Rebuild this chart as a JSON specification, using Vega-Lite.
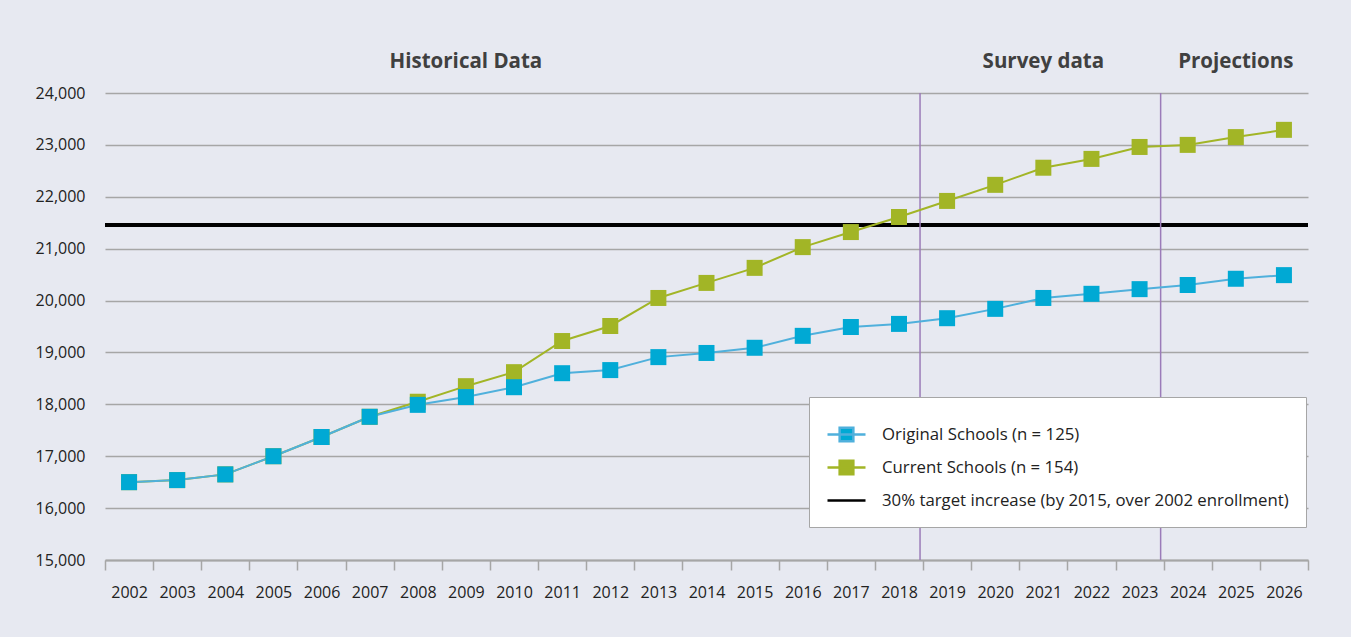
{
  "$schema": "https://vega.github.io/schema/vega-lite/v6.json",
  "autosize": {"type": "none"},
  "width": 1203,
  "height": 467,
  "padding": {"left": 105, "top": 93, "right": 43, "bottom": 77},
  "background": "#e7e9f1",
  "config": {
    "view": {"stroke": null},
    "font": "Open Sans",
    "legend": {
      "fillColor": "#ffffff",
      "strokeColor": "#a6a6a6",
      "padding": 17,
      "labelFont": "Open Sans",
      "labelFontSize": 16.8,
      "labelColor": "#222222",
      "labelLimit": 600,
      "labelOffset": 15,
      "rowPadding": -12,
      "symbolSize": 1444,
      "symbolStrokeWidth": 2.5,
      "symbolOpacity": 1
    }
  },
  "datasets": {
    "series": [
      {"year": 2002, "series": "Current Schools (n = 154)", "value": 16500},
      {"year": 2003, "series": "Current Schools (n = 154)", "value": 16540},
      {"year": 2004, "series": "Current Schools (n = 154)", "value": 16650},
      {"year": 2005, "series": "Current Schools (n = 154)", "value": 17000},
      {"year": 2006, "series": "Current Schools (n = 154)", "value": 17370},
      {"year": 2007, "series": "Current Schools (n = 154)", "value": 17760},
      {"year": 2008, "series": "Current Schools (n = 154)", "value": 18050},
      {"year": 2009, "series": "Current Schools (n = 154)", "value": 18350},
      {"year": 2010, "series": "Current Schools (n = 154)", "value": 18620},
      {"year": 2011, "series": "Current Schools (n = 154)", "value": 19220},
      {"year": 2012, "series": "Current Schools (n = 154)", "value": 19510},
      {"year": 2013, "series": "Current Schools (n = 154)", "value": 20050},
      {"year": 2014, "series": "Current Schools (n = 154)", "value": 20340},
      {"year": 2015, "series": "Current Schools (n = 154)", "value": 20630},
      {"year": 2016, "series": "Current Schools (n = 154)", "value": 21030},
      {"year": 2017, "series": "Current Schools (n = 154)", "value": 21320},
      {"year": 2018, "series": "Current Schools (n = 154)", "value": 21610},
      {"year": 2019, "series": "Current Schools (n = 154)", "value": 21920},
      {"year": 2020, "series": "Current Schools (n = 154)", "value": 22230},
      {"year": 2021, "series": "Current Schools (n = 154)", "value": 22560},
      {"year": 2022, "series": "Current Schools (n = 154)", "value": 22730},
      {"year": 2023, "series": "Current Schools (n = 154)", "value": 22960},
      {"year": 2024, "series": "Current Schools (n = 154)", "value": 23000},
      {"year": 2025, "series": "Current Schools (n = 154)", "value": 23150},
      {"year": 2026, "series": "Current Schools (n = 154)", "value": 23290},
      {"year": 2002, "series": "Original Schools (n = 125)", "value": 16500},
      {"year": 2003, "series": "Original Schools (n = 125)", "value": 16540},
      {"year": 2004, "series": "Original Schools (n = 125)", "value": 16650},
      {"year": 2005, "series": "Original Schools (n = 125)", "value": 17000},
      {"year": 2006, "series": "Original Schools (n = 125)", "value": 17370},
      {"year": 2007, "series": "Original Schools (n = 125)", "value": 17760},
      {"year": 2008, "series": "Original Schools (n = 125)", "value": 17990},
      {"year": 2009, "series": "Original Schools (n = 125)", "value": 18140},
      {"year": 2010, "series": "Original Schools (n = 125)", "value": 18330},
      {"year": 2011, "series": "Original Schools (n = 125)", "value": 18600},
      {"year": 2012, "series": "Original Schools (n = 125)", "value": 18660},
      {"year": 2013, "series": "Original Schools (n = 125)", "value": 18910},
      {"year": 2014, "series": "Original Schools (n = 125)", "value": 18990},
      {"year": 2015, "series": "Original Schools (n = 125)", "value": 19090},
      {"year": 2016, "series": "Original Schools (n = 125)", "value": 19320},
      {"year": 2017, "series": "Original Schools (n = 125)", "value": 19490},
      {"year": 2018, "series": "Original Schools (n = 125)", "value": 19550},
      {"year": 2019, "series": "Original Schools (n = 125)", "value": 19660},
      {"year": 2020, "series": "Original Schools (n = 125)", "value": 19840},
      {"year": 2021, "series": "Original Schools (n = 125)", "value": 20050},
      {"year": 2022, "series": "Original Schools (n = 125)", "value": 20130},
      {"year": 2023, "series": "Original Schools (n = 125)", "value": 20220},
      {"year": 2024, "series": "Original Schools (n = 125)", "value": 20300},
      {"year": 2025, "series": "Original Schools (n = 125)", "value": 20420},
      {"year": 2026, "series": "Original Schools (n = 125)", "value": 20490}
    ],
    "periods": [
      {"year": 2019, "label": "Survey start"},
      {"year": 2024, "label": "Projection start"}
    ],
    "headers": [
      {"year": 2009, "label": "Historical Data"},
      {"year": 2021, "label": "Survey data"},
      {"year": 2025, "label": "Projections"}
    ]
  },
  "encoding": {
    "x": {
      "field": "year",
      "type": "ordinal",
      "scale": {"paddingInner": 0, "paddingOuter": 0},
      "axis": {
        "title": null,
        "labelAngle": 0,
        "tickBand": "extent",
        "tickSize": 10,
        "tickColor": "#a6a6a6",
        "tickWidth": 1.5,
        "domainColor": "#a6a6a6",
        "domainWidth": 2,
        "labelFontSize": 16,
        "labelColor": "#222222",
        "labelPadding": 14,
        "grid": false
      }
    }
  },
  "layer": [
    {
      "data": {"name": "series"},
      "mark": {"type": "rule", "color": "#000000", "strokeWidth": 3},
      "encoding": {
        "x": null,
        "y": {
          "datum": 21450,
          "type": "quantitative",
          "scale": {"domain": [15000, 24000], "nice": false, "zero": false},
          "axis": {
            "title": null,
            "values": [15000, 16000, 17000, 18000, 19000, 20000, 21000, 22000, 23000, 24000],
            "format": ",d",
            "ticks": false,
            "domain": false,
            "grid": true,
            "gridColor": "#a6a6a6",
            "gridWidth": 1.5,
            "labelFontSize": 16,
            "labelColor": "#222222",
            "labelPadding": 20
          }
        }
      }
    },
    {
      "data": {"name": "periods"},
      "mark": {"type": "rule", "color": "#9b7bb9", "strokeWidth": 1.5, "xOffset": -3},
      "encoding": {
        "x": {"field": "year", "type": "ordinal", "bandPosition": 0}
      }
    },
    {
      "data": {"name": "series"},
      "mark": {"type": "line", "strokeWidth": 2},
      "encoding": {
        "y": {"field": "value", "type": "quantitative"},
        "stroke": {
          "field": "series",
          "type": "nominal",
          "title": null,
          "scale": {
            "domain": ["Original Schools (n = 125)", "Current Schools (n = 154)", "30% target increase (by 2015, over 2002 enrollment)"],
            "range": ["#4fb0dc", "#a2b526", "#000000"]
          },
          "legend": {"orient": "none", "legendX": 704, "legendY": 304, "title": null}
        },
        "order": {"field": "year"}
      }
    },
    {
      "data": {"name": "series"},
      "mark": {"type": "square", "filled": true, "size": 256, "opacity": 1},
      "encoding": {
        "y": {"field": "value", "type": "quantitative"},
        "fill": {
          "field": "series",
          "type": "nominal",
          "title": null,
          "scale": {
            "domain": ["Original Schools (n = 125)", "Current Schools (n = 154)", "30% target increase (by 2015, over 2002 enrollment)"],
            "range": ["#00a9d4", "#a2b526", "#000000"]
          },
          "legend": {"orient": "none", "legendX": 704, "legendY": 304, "title": null}
        }
      }
    },
    {
      "data": {"name": "series"},
      "mark": {"type": "point", "filled": true, "opacity": 0},
      "encoding": {
        "y": {"field": "value", "type": "quantitative"},
        "shape": {
          "field": "series",
          "type": "nominal",
          "title": null,
          "scale": {
            "domain": ["Original Schools (n = 125)", "Current Schools (n = 154)", "30% target increase (by 2015, over 2002 enrollment)"],
            "range": ["M-1,0H1M-0.36,-0.36H0.36V0.36H-0.36Z", "M-1,0H1M-0.36,-0.36H0.36V0.36H-0.36Z", "M-1,0H1"]
          },
          "legend": {"orient": "none", "legendX": 704, "legendY": 304, "title": null}
        }
      }
    },
    {
      "data": {"name": "headers"},
      "mark": {"type": "text", "fontSize": 20.5, "fontWeight": "bold", "color": "#404040", "font": "Open Sans", "baseline": "middle"},
      "encoding": {
        "y": {"datum": 24600, "type": "quantitative"},
        "text": {"field": "label"}
      }
    }
  ]
}
